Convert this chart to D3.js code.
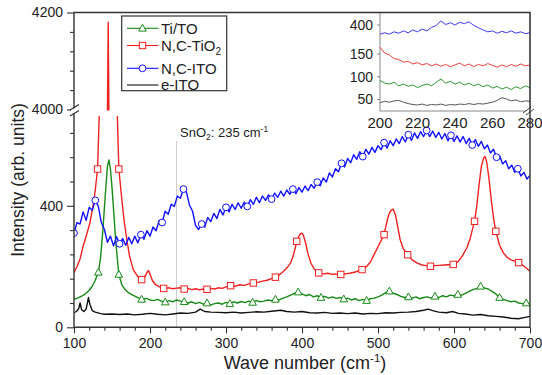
<!DOCTYPE html>
<html><head><meta charset="utf-8">
<script src="https://cdn.jsdelivr.net/npm/d3@7"></script>
<style>body{margin:0;background:#fff}svg{display:block;font-family:"Liberation Sans",Arial,Helvetica,sans-serif}</style>
</head><body><svg id="c" width="542" height="375"></svg>
<script>
// ---------- data ----------
const xMajor = [100,200,300,400,500,600,700];
const yMajorLow = [0,400];
const yMinorLow = [80,160,240,320,480,560,640];
const yMajorHigh = [4000,4200];
const yMinorHigh = [4040,4080,4120,4160];
const insetXTicks = [200,220,240,260,280];
const insetYTicks = [50,100,150,400];

const eITO = [[100,48],[103,52],[106,60],[108,80],[110,58],[113,52],[116,60],[119,98],[121,75],[124,55],[128,50],[135,45],[140,43],[150,44],[160,42],[170,44],[180,41],[190,43],[200,46],[210,43],[220,41],[230,44],[240,47],[250,46],[260,50],[266,60],[272,52],[280,50],[290,49],[300,48],[310,50],[320,47],[330,49],[340,51],[350,50],[360,53],[372,56],[380,52],[390,50],[400,52],[410,48],[420,47],[430,49],[440,46],[450,47],[460,45],[470,47],[480,44],[490,46],[500,45],[510,48],[520,47],[530,49],[540,50],[550,52],[560,56],[566,60],[572,55],[580,50],[590,48],[598,52],[606,46],[615,44],[625,40],[635,42],[645,38],[655,36],[665,34],[675,30],[685,28],[692,32],[700,36]];

const tiTO = [[100,92],[104,95],[108,100],[112,105],[116,112],[120,122],[124,135],[128,155],[132,181],[135,230],[138,320],[141,430],[144,530],[146,551],[148,520],[150,460],[152,390],[155,280],[159,174],[163,140],[167,125],[172,113],[178,105],[184,98],[189,92],[195,95],[200,90],[205,88],[210,92],[215,86],[220,83],[225,88],[230,84],[235,90],[240,86],[245,84],[250,80],[255,84],[260,78],[265,82],[270,76],[275,80],[280,74],[285,78],[290,80],[295,76],[300,82],[305,78],[310,84],[315,80],[320,85],[325,81],[330,86],[335,82],[340,88],[345,84],[350,86],[355,90],[360,88],[365,92],[370,90],[375,96],[380,100],[385,106],[390,112],[395,116],[400,110],[405,104],[410,108],[415,100],[420,104],[425,98],[430,102],[435,96],[440,100],[445,95],[450,98],[455,93],[460,96],[465,90],[470,94],[475,88],[480,92],[485,88],[490,94],[495,96],[500,100],[505,106],[510,114],[515,119],[520,112],[525,108],[530,102],[535,98],[540,100],[545,96],[550,100],[555,94],[560,98],[565,100],[570,96],[575,102],[580,98],[585,104],[590,100],[595,106],[600,104],[605,108],[610,106],[615,112],[620,118],[625,124],[630,128],[635,135],[640,130],[645,126],[650,118],[655,110],[660,98],[665,92],[670,88],[675,84],[680,86],[685,80],[690,78],[695,80],[700,75]];

const ncTiO2 = [[100,180],[104,200],[108,225],[112,267],[116,300],[121,344],[125,400],[128,452],[131,521],[133,680],[135,1000],[140,2500],[143,3800],[145,4180],[147,3800],[150,2500],[155,1000],[157,700],[159,521],[163,420],[166,350],[169.5,289],[173,235],[178,190],[183,170],[189,157],[193,165],[196,180],[198,187],[200,175],[203,155],[207,141],[212,134],[218,128],[225,130],[230,127],[235,129],[240,130],[245,126],[250,128],[255,124],[260,127],[265,123],[270,126],[275,125],[280,128],[285,126],[290,130],[295,128],[300,133],[306,137],[312,135],[318,140],[324,138],[330,143],[336,146],[342,148],[348,152],[354,155],[360,160],[365,165],[370,172],[375,183],[380,195],[385,212],[388,232],[391,260],[393,283],[396,300],[398,308],[400,310],[402,302],[405,275],[408,240],[412,210],[416,192],[422,179],[428,176],[434,178],[440,174],[446,176],[451,174],[457,176],[463,178],[470,182],[479,190],[485,200],[490,215],[495,240],[500,265],[504,285],[508,305],[511,340],[514,370],[517,385],[520,389],[523,370],[526,330],[529,290],[533,260],[539,239],[545,222],[551,212],[557,206],[563,203],[569,201],[575,203],[581,204],[587,205],[593,206],[599,207],[605,215],[611,235],[617,262],[621,290],[624,320],[627,349],[630,400],[633,470],[636,530],[639,558],[641,562],[643,545],[646,490],[649,420],[652,360],[655,316],[660,270],[665,245],[670,230],[675,222],[680,218],[685,213],[690,205],[695,195],[700,185]];

const ncITOwave = d3.range(100, 701, 4);
const ncITOvalues = [310,345,340,380,352,395,385,418,398,345,322,280,300,268,298,275,292,270,296,275,300,278,305,290,318,300,330,318,352,345,382,372,405,398,432,425,455,445,402,382,335,322,340,330,362,348,375,358,388,370,395,380,405,388,410,392,412,398,420,405,428,410,432,418,436,422,442,428,448,432,452,438,455,440,460,445,465,450,470,458,478,466,492,478,508,495,522,512,540,528,556,542,568,553,578,562,586,570,592,576,598,585,608,590,614,598,620,605,628,610,634,615,640,622,644,628,648,628,646,625,642,620,638,614,632,612,630,610,628,605,622,600,618,596,612,588,600,574,586,560,565,538,548,522,534,510,522,498,510,488,500];

const markerTi = [132,159,189,218,246,275,305,334,366,394,425,455,483,514,542,573,604,635,662,694];
const markerTiO2 = [131,159,189,216,246,275,306,334,365,393,422,451,480,508,539,569,600,627,655,685];
const markerITO = [100,128,159,187,216,244,268,301,330,360,389,420,451,480,510,539,565,596,625,655,685];

const insetWave = [200,202.5,205,207.5,210,212.5,215,217.5,220,222.5,225,227.5,230,232.5,235,237.5,240,242.5,245,247.5,250,252.5,255,257.5,260,262.5,265,267.5,270,272.5,275,277.5,280];
const insetEITO = [43,46,44,47,48,44,41,39,38,40,37,39,38,40,37,39,38,40,39,41,39,41,40,42,44,48,54,51,47,49,45,47,46];
const insetTiTO = [92,86,84,88,80,84,79,82,76,81,84,80,88,95,86,90,84,88,82,86,80,84,78,82,75,79,73,77,72,78,74,80,76];
const insetTiO2 = [165,152,148,140,138,132,134,128,131,126,129,124,128,123,127,122,126,130,124,128,122,127,124,129,125,121,126,122,127,123,128,124,126];
const insetITO = [377,383,379,385,382,387,383,389,385,391,387,395,399,409,401,405,400,406,403,407,399,394,389,385,387,382,386,383,387,382,385,381,383];

// ---------- layout ----------
const svg = d3.select("#c");
const L = 74, R = 530, T = 12.5, B = 327.3;
const x = d3.scaleLinear().domain([100,700]).range([L,R]);
const yLow = d3.scaleLinear().domain([0,400]).range([B,205.8]);
const yHigh = d3.scaleLinear().domain([4000,4200]).range([109.5,T]);

const cGreen = "#178a17", cRed = "#ee2020", cBlue = "#1010ff", cBlack = "#111";

const defs = svg.append("defs");
defs.append("clipPath").attr("id","clipLow").append("rect").attr("x",L).attr("y",116).attr("width",R-L).attr("height",B-116);
defs.append("clipPath").attr("id","clipHigh").append("rect").attr("x",L).attr("y",T).attr("width",R-L).attr("height",110.5-T);

// SnO2 reference line
svg.append("line").attr("x1",x(235)).attr("x2",x(235)).attr("y1",141).attr("y2",B)
  .attr("stroke","#c9c9c9").attr("stroke-width",1);
const ann = svg.append("text").attr("x",180).attr("y",137).attr("font-size",13).attr("fill","#222");
ann.append("tspan").text("SnO");
ann.append("tspan").attr("font-size",8.5).attr("dy",3).text("2");
ann.append("tspan").attr("dy",-3).text(": 235 cm");
ann.append("tspan").attr("font-size",8.5).attr("dy",-5).text("-1");

// ---------- series ----------
const lineLow = d3.line().x(d=>x(d[0])).y(d=>yLow(d[1]));
const lineHigh = d3.line().x(d=>x(d[0])).y(d=>yHigh(d[1]));
const ncITO = ncITOwave.map((w,i)=>[w, ncITOvalues[i]]);
const nearest = (data,w) => data.reduce((a,b)=>Math.abs(b[0]-w)<Math.abs(a[0]-w)?b:a);

const gLow = svg.append("g").attr("clip-path","url(#clipLow)");
const gHigh = svg.append("g").attr("clip-path","url(#clipHigh)");

function drawLine(g, data, color, gen){
  g.append("path").datum(data).attr("d",gen).attr("fill","none").attr("stroke",color).attr("stroke-width",1.4).attr("stroke-linejoin","round");
}
drawLine(gLow, eITO, cBlack, lineLow);
drawLine(gLow, tiTO, cGreen, lineLow);
drawLine(gLow, ncTiO2, cRed, lineLow);
drawLine(gHigh, ncTiO2, cRed, lineHigh);
drawLine(gLow, ncITO, cBlue, lineLow);

function marker(g, shape, cx, cy, color){
  if(shape==="tri"){
    g.append("path").attr("d",`M${cx},${cy-4}L${cx+3.8},${cy+2.8}L${cx-3.8},${cy+2.8}Z`)
      .attr("fill","#fff").attr("stroke",color).attr("stroke-width",1);
  } else if(shape==="sq"){
    g.append("rect").attr("x",cx-3.2).attr("y",cy-3.2).attr("width",6.4).attr("height",6.4)
      .attr("fill","#fff").attr("stroke",color).attr("stroke-width",1);
  } else {
    g.append("circle").attr("cx",cx).attr("cy",cy).attr("r",3.4)
      .attr("fill","#fff").attr("stroke",color).attr("stroke-width",1);
  }
}
markerTi.forEach(w=>{const d=nearest(tiTO,w); marker(gLow,"tri",x(d[0]),yLow(d[1]),cGreen);});
markerTiO2.forEach(w=>{const d=nearest(ncTiO2,w); marker(gLow,"sq",x(d[0]),yLow(d[1]),cRed);});
markerITO.forEach(w=>{const d=nearest(ncITO,w); marker(gLow,"circ",x(d[0]),yLow(d[1]),cBlue);});

// ---------- inset ----------
const ix = d3.scaleLinear().domain([200,280]).range([380,R]);
const iy = d3.scaleLinear().domain([0,170,380,420]).range([122.25,44.9,34.1,15.9]);
const IB = 111;
const inset = svg.append("g");
inset.append("rect").attr("x",380).attr("y",T).attr("width",R-380).attr("height",IB-T)
  .attr("fill","#fff").attr("stroke","#888").attr("stroke-width",1);
const iline = d3.line().x((d,i)=>ix(insetWave[i])).y(d=>iy(d));
[[insetEITO,"#555"],[insetTiTO,"#2f962f"],[insetTiO2,"#ea4040"],[insetITO,"#3a3aee"]].forEach(([vals,col])=>{
  inset.append("path").datum(vals).attr("d",iline).attr("fill","none").attr("stroke",col).attr("stroke-width",1);
});
insetXTicks.forEach(t=>{
  inset.append("text").attr("x",ix(t)).attr("y",127.5).attr("text-anchor","middle").attr("font-size",15).attr("fill","#222").text(t);
});
insetYTicks.forEach(t=>{
  inset.append("line").attr("x1",377).attr("x2",380).attr("y1",iy(t)).attr("y2",iy(t)).attr("stroke","#888");
  inset.append("text").attr("x",373).attr("y",iy(t)).attr("dy","0.35em").attr("text-anchor","end").attr("font-size",14).attr("fill","#222").text(t);
});
// inset x break mark
inset.append("rect").attr("x",526).attr("y",IB-2).attr("width",6).attr("height",4).attr("fill","#fff");
inset.append("path").attr("d",`M523,${IB+2}L531,${IB-4}M526,${IB+4}L534,${IB-2}`).attr("stroke","#444").attr("stroke-width",1);

// ---------- axes ----------
const axG = svg.append("g");
axG.append("g").attr("transform",`translate(0,${B})`)
  .call(d3.axisBottom(x).tickValues(xMajor).tickSize(6).tickPadding(5).tickFormat(d3.format("d")));
const xMinor = d3.range(120,700,20).filter(v=>v%100!==0);
axG.append("g").attr("transform",`translate(0,${B})`).call(d3.axisBottom(x).tickValues(xMinor).tickSize(3.5).tickFormat(""));
axG.append("g").attr("transform",`translate(${L},0)`)
  .call(d3.axisLeft(yLow).tickValues(yMajorLow).tickSize(7).tickPadding(4).tickFormat(d3.format("d")));
axG.append("g").attr("transform",`translate(${L},0)`).call(d3.axisLeft(yLow).tickValues(yMinorLow).tickSize(4).tickFormat(""));
axG.append("g").attr("transform",`translate(${L},0)`)
  .call(d3.axisLeft(yHigh).tickValues(yMajorHigh).tickSize(7).tickPadding(4).tickFormat(d3.format("d")));
axG.append("g").attr("transform",`translate(${L},0)`).call(d3.axisLeft(yHigh).tickValues(yMinorHigh).tickSize(4).tickFormat(""));
axG.selectAll(".domain").remove();
axG.selectAll(".tick line").attr("stroke","#333").attr("stroke-width",1.1);
axG.selectAll(".tick text").attr("font-size",14).attr("fill","#222").attr("font-family","Liberation Sans, Arial, sans-serif");

// frame
svg.append("path").attr("d",`M${L},${T}H${R}V${B}H${L}Z`).attr("fill","none").attr("stroke","#333").attr("stroke-width",1.4);
// y-axis break
svg.append("rect").attr("x",L-3).attr("y",108.5).attr("width",6).attr("height",4.5).attr("fill","#fff");
svg.append("path").attr("d",`M${L-4},${110}L${L+5},${104.5}M${L-4},${116}L${L+5},${110.5}`).attr("stroke","#333").attr("stroke-width",1.3);

// axis titles
const xt = svg.append("text").attr("x",305).attr("y",369).attr("text-anchor","middle").attr("font-size",18).attr("fill","#222");
xt.append("tspan").text("Wave number (cm");
xt.append("tspan").attr("font-size",11.5).attr("dy",-7).text("-1");
xt.append("tspan").attr("dy",7).text(")");
svg.append("text").attr("transform","translate(24,180) rotate(-90)").attr("text-anchor","middle")
  .attr("font-size",17.5).attr("fill","#222").text("Intensity (arb. units)");

// ---------- legend ----------
const lg = svg.append("g");
lg.append("rect").attr("x",121.7).attr("y",16).attr("width",105).attr("height",74.7)
  .attr("fill","#fff").attr("stroke","#333").attr("stroke-width",1.2);
const legendItems = [
  {name:"Ti/TO", color:cGreen, shape:"tri", y:28.3},
  {name:"N,C-TiO", sub:"2", color:cRed, shape:"sq", y:45.5},
  {name:"N,C-ITO", color:cBlue, shape:"circ", y:68.3},
  {name:"e-ITO", color:cBlack, shape:null, y:85}
];
legendItems.forEach(it=>{
  lg.append("line").attr("x1",127).attr("x2",158.5).attr("y1",it.y).attr("y2",it.y).attr("stroke",it.color).attr("stroke-width",1.1);
  if(it.shape) marker(lg, it.shape, 142.5, it.y, it.color);
  const t = lg.append("text").attr("x",161).attr("y",it.y).attr("dy","0.36em").attr("font-size",15).attr("fill","#222");
  t.append("tspan").text(it.name);
  if(it.sub) t.append("tspan").attr("font-size",10).attr("dy",4).text(it.sub);
});
</script>
</body></html>
